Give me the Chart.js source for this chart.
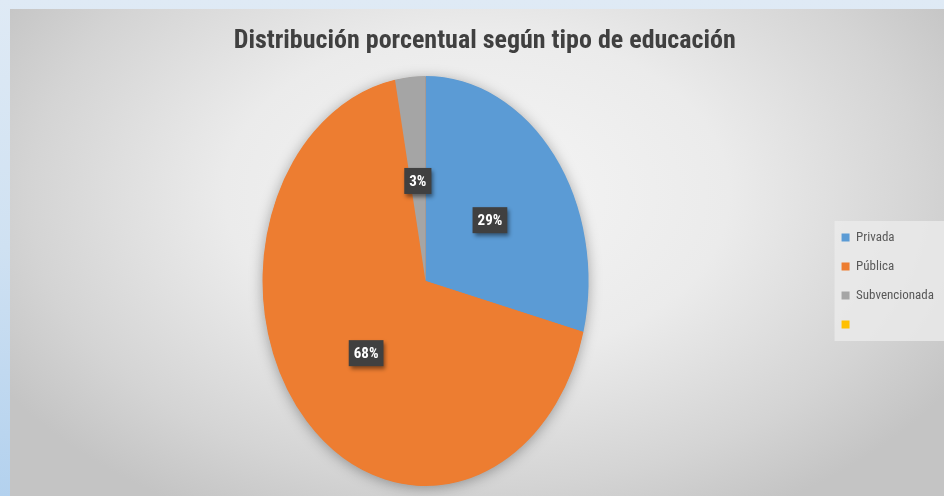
<!DOCTYPE html>
<html>
<head>
<meta charset="utf-8">
<script src="https://cdn.jsdelivr.net/npm/chart.js@4.4.1/dist/chart.umd.min.js"></script>
<style>
  html, body { margin: 0; padding: 0; }
  body { width: 944px; height: 496px; overflow: hidden;
         background: linear-gradient(to bottom, #dfeaf5 0%, #cfe1f2 50%, #b3d1ee 100%); position: relative; }
  #wrap { position: absolute; left: 10px; top: 9px; width: 934px; height: 487px;
          background: radial-gradient(ellipse 60% 75% at 50% 38%, #f5f5f5 0%, #ebebeb 45%, #d4d4d4 80%, #c4c4c4 100%); }
</style>
</head>
<body>
<div id="wrap"><canvas id="c" width="934" height="487"></canvas></div>
<script>
const titleText = 'Distribución porcentual según tipo de educación';
const categories = ['Privada', 'Pública', 'Subvencionada', ''];
const values = [29, 68, 3, 0];
const colors = ['#5B9BD5', '#ED7D31', '#A5A5A5', '#FFC000'];

const FONT = "'Liberation Sans Narrow', 'Roboto Condensed', 'DejaVu Sans Condensed', 'Liberation Sans', sans-serif";
const K = 205 / 163; // vertical stretch of the pie (ellipse)

function stretch(chart) {
  const arc = chart.getDatasetMeta(0).data[0];
  return { cx: arc.x, cy: arc.y, r: arc.outerRadius };
}

const ellipsePlugin = {
  id: 'ellipse',
  beforeDraw(chart) {
    const lg = chart.legend;
    if (lg && lg.legendHitBoxes && lg.legendHitBoxes.length) {
      const hb = lg.legendHitBoxes;
      const ctx = chart.ctx;
      const x0 = hb[0].left - 7;
      const y0 = hb[0].top - 10;
      const y1 = hb[hb.length - 1].top + hb[hb.length - 1].height + 10;
      ctx.save();
      ctx.fillStyle = 'rgba(235,235,235,0.8)';
      ctx.fillRect(x0, y0, chart.width - x0, y1 - y0);
      ctx.restore();
    }
  },
  beforeDatasetsDraw(chart) {
    const ctx = chart.ctx;
    const { cx, cy, r } = stretch(chart);
    ctx.save();
    ctx.translate(cx, cy);
    ctx.scale(1, K);
    ctx.translate(-cx, -cy);
    ctx.save();
    ctx.shadowColor = 'rgba(0,0,0,0.35)';
    ctx.shadowBlur = 14;
    ctx.shadowOffsetX = 0;
    ctx.shadowOffsetY = 2;
    ctx.beginPath();
    ctx.arc(cx, cy, r - 0.5, 0, Math.PI * 2);
    ctx.fillStyle = '#ED7D31';
    ctx.fill();
    ctx.restore();
  },
  afterDatasetsDraw(chart) {
    const ctx = chart.ctx;
    ctx.restore();
    const { cy } = stretch(chart);
    const data = chart.data.datasets[0].data;
    const total = data.reduce((a, b) => a + b, 0);
    chart.getDatasetMeta(0).data.forEach((arc, i) => {
      if (!data[i]) return;
      const p = arc.tooltipPosition();
      const x = p.x;
      const y = cy + (p.y - cy) * K + 2;
      const txt = Math.round(data[i] / total * 100) + '%';
      ctx.save();
      ctx.font = 'bold 15px ' + FONT;
      const w = ctx.measureText(txt).width + 10;
      const h = 26;
      ctx.shadowColor = 'rgba(0,0,0,0.45)';
      ctx.shadowBlur = 4;
      ctx.shadowOffsetX = 2;
      ctx.shadowOffsetY = 3;
      ctx.fillStyle = '#404040';
      ctx.fillRect(x - w / 2, y - h / 2, w, h);
      ctx.shadowColor = 'transparent';
      ctx.fillStyle = '#ffffff';
      ctx.textAlign = 'center';
      ctx.textBaseline = 'middle';
      ctx.fillText(txt, x, y + 1);
      ctx.restore();
    });
  }
};

new Chart(document.getElementById('c'), {
  type: 'pie',
  data: {
    labels: categories,
    datasets: [{
      data: values,
      backgroundColor: colors,
      borderWidth: 0,
      radius: 163
    }]
  },
  options: {
    responsive: false,
    animation: false,
    events: [],
    layout: { padding: { left: 15.5, top: 0, right: 0, bottom: 0 } },
    plugins: {
      title: {
        display: true,
        text: titleText,
        color: '#404040',
        font: { family: FONT, size: 26, weight: 'bold', lineHeight: 1.2 },
        padding: { top: 16.4, bottom: 9.4 }
      },
      legend: {
        position: 'right',
        align: 'center',
        fullSize: false,
        labels: {
          color: '#595959',
          font: { family: FONT, size: 13 },
          boxWidth: 8,
          boxHeight: 8,
          padding: 16
        }
      },
      tooltip: { enabled: false }
    }
  },
  plugins: [ellipsePlugin]
});
</script>
</body>
</html>
